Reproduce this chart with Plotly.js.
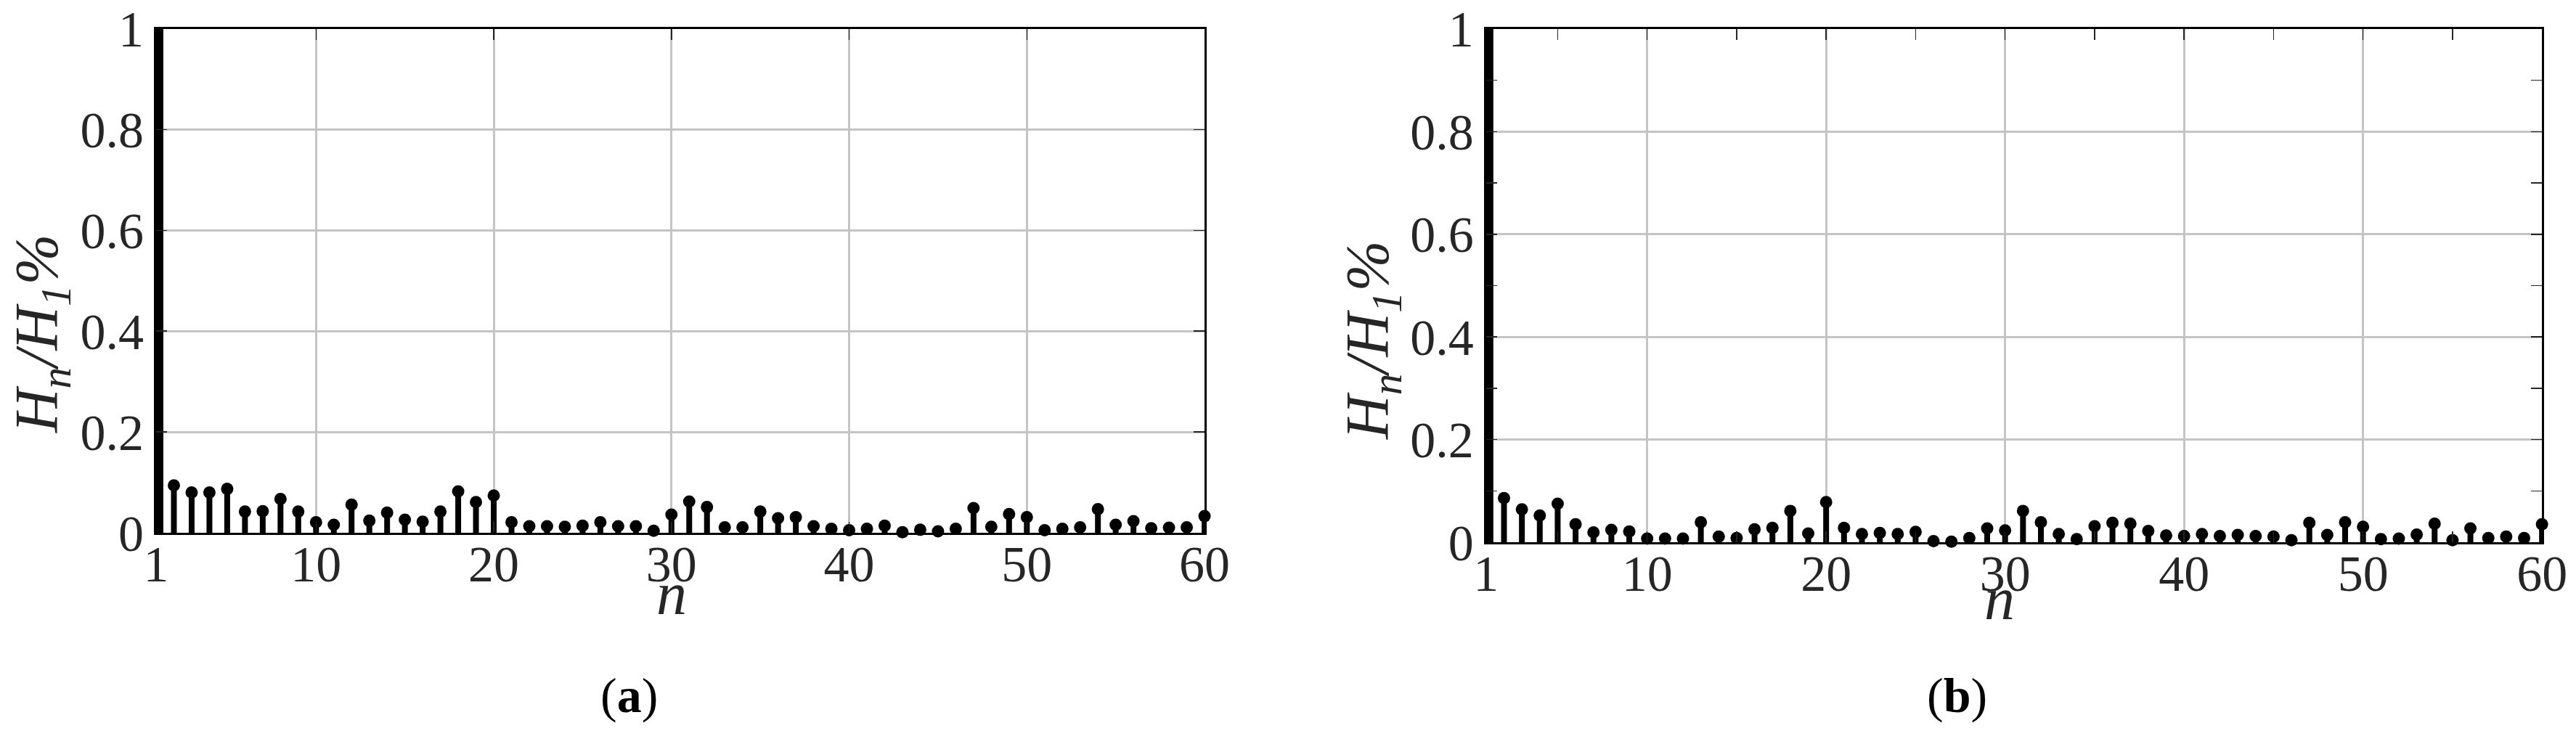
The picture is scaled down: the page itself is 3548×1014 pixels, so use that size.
<!DOCTYPE html>
<html>
<head>
<meta charset="utf-8">
<script src="https://cdn.plot.ly/plotly-3.0.1.min.js"></script>
<style>
html, body { margin: 0; padding: 0; background: #ffffff; }
#chart { width: 3548px; height: 1014px; }
</style>
</head>
<body>
<div id="chart"></div>
<script>
// ---- data ----
const harmonicOrder = [2,3,4,5,6,7,8,9,10,11,12,13,14,15,16,17,18,19,20,21,22,23,24,25,26,27,28,29,30,31,32,33,34,35,36,37,38,39,40,41,42,43,44,45,46,47,48,49,50,51,52,53,54,55,56,57,58,59,60];
const valuesA = [0.094,0.080,0.080,0.087,0.042,0.043,0.067,0.042,0.021,0.016,0.056,0.024,0.040,0.026,0.022,0.042,0.082,0.061,0.074,0.021,0.013,0.013,0.012,0.014,0.021,0.013,0.013,0.004,0.036,0.062,0.051,0.011,0.011,0.042,0.029,0.031,0.013,0.008,0.005,0.008,0.014,0.001,0.006,0.003,0.008,0.049,0.012,0.037,0.031,0.005,0.008,0.011,0.047,0.016,0.023,0.009,0.010,0.011,0.033];
const valuesB = [0.086,0.064,0.052,0.075,0.035,0.019,0.024,0.021,0.007,0.007,0.007,0.039,0.011,0.008,0.025,0.028,0.061,0.017,0.078,0.028,0.016,0.018,0.016,0.020,0.002,0.001,0.008,0.027,0.023,0.061,0.039,0.016,0.006,0.031,0.038,0.036,0.022,0.013,0.012,0.016,0.012,0.014,0.012,0.011,0.004,0.038,0.014,0.039,0.030,0.006,0.007,0.015,0.036,0.004,0.027,0.008,0.011,0.008,0.035];
const fundamentalOrder = [1, 1];
const fundamentalValue = [0, 1];
const xTickVals = [1,10,20,30,40,50,60];
const xTickText = ['1','10','20','30','40','50','60'];
const xMinorTicks = [5,15,25,35,45,55];
const yTickVals = [0,0.2,0.4,0.6,0.8,1];
const yTickText = ['0','0.2','0.4','0.6','0.8','1'];
const yMinorTicks = [0.1,0.3,0.5,0.7,0.9];
const xTitle = '<i>n</i>';
const yTitle = '<i>H<sub>n</sub>/H<sub>1</sub>%</i>';
const captions = ['(<b>a</b>)', '(<b>b</b>)'];

// ---- styling ----
const FONT = "'Liberation Serif', 'Times New Roman', serif";
const TXT = '#262626';

function stemTrace(x, y, xa, ya) {
  return {
    type: 'scatter', mode: 'markers', x: x, y: y, xaxis: xa, yaxis: ya,
    cliponaxis: false, showlegend: false, hoverinfo: 'skip',
    marker: { color: '#000000', size: 17, line: { width: 0 } },
    error_y: { type: 'data', symmetric: false, array: y.map(() => 0), arrayminus: y,
               color: '#000000', thickness: 8, width: 0 }
  };
}
function fundamentalTrace(xa, ya) {
  // the n = 1 stem sits on the left edge of the box; only its inner half shows
  return {
    type: 'scatter', mode: 'lines', x: fundamentalOrder, y: fundamentalValue, xaxis: xa, yaxis: ya,
    showlegend: false, hoverinfo: 'skip', line: { color: '#000000', width: 20 }
  };
}

const data = [
  fundamentalTrace('x', 'y'),
  stemTrace(harmonicOrder, valuesA, 'x', 'y'),
  fundamentalTrace('x2', 'y2'),
  stemTrace(harmonicOrder, valuesB, 'x2', 'y2')
];

function xAxis(domain, anchor, minor) {
  const ax = {
    domain: domain, anchor: anchor, range: [1, 60], fixedrange: true,
    tickmode: 'array', tickvals: xTickVals, ticktext: xTickText,
    ticks: 'inside', ticklen: 15, tickwidth: 1.5, tickcolor: TXT,
    showline: true, linewidth: 3, linecolor: '#000000', mirror: 'allticks',
    showgrid: true, gridcolor: '#c4c4c4', gridwidth: 3, zeroline: false,
    tickfont: { family: FONT, size: 70, color: TXT },
    ticklabelstandoff: -20
  };
  if (minor) ax.minor = { tickmode: 'array', tickvals: xMinorTicks, ticks: 'inside', ticklen: 15, tickwidth: 1.5, tickcolor: TXT, showgrid: false };
  return ax;
}
function yAxis(domain, anchor, minor) {
  const ax = {
    domain: domain, anchor: anchor, range: [0, 1], fixedrange: true,
    tickmode: 'array', tickvals: yTickVals, ticktext: yTickText,
    ticks: 'inside', ticklen: 15, tickwidth: 1.5, tickcolor: TXT,
    showline: true, linewidth: 3, linecolor: '#000000', mirror: 'allticks',
    showgrid: true, gridcolor: '#c4c4c4', gridwidth: 3, zeroline: false,
    tickfont: { family: FONT, size: 70, color: TXT },
    ticklabelstandoff: 0
  };
  if (minor) ax.minor = { tickmode: 'array', tickvals: yMinorTicks, ticks: 'inside', ticklen: 15, tickwidth: 1.5, tickcolor: TXT, showgrid: false };
  return ax;
}

function titleAnn(text, x, y, angle, size) {
  return { text: text, xref: 'paper', yref: 'paper', x: x, y: y, xanchor: 'center', yanchor: 'middle',
           textangle: angle, showarrow: false, font: { family: FONT, size: size, color: TXT } };
}

const layout = {
  width: 3548, height: 1014,
  margin: { l: 0, r: 0, t: 0, b: 0 },
  paper_bgcolor: '#ffffff', plot_bgcolor: '#ffffff',
  showlegend: false,
  xaxis: xAxis([0.0606, 0.4676], 'y', false),
  yaxis: yAxis([0.2761, 0.9610], 'x', false),
  xaxis2: xAxis([0.5769, 0.9868], 'y2', true),
  yaxis2: yAxis([0.2633, 0.9606], 'x2', true),
  annotations: [
    titleAnn(xTitle, 0.2607, 0.1935, 0, 84),
    titleAnn(xTitle, 0.7762, 0.1870, 0, 84),
    titleAnn(yTitle, 0.0161, 0.5464, -90, 84),
    titleAnn(yTitle, 0.5327, 0.5375, -90, 84),
    { text: captions[0], xref: 'paper', yref: 'paper', x: 0.2441, y: 0.055, xanchor: 'center', yanchor: 'middle', showarrow: false, font: { family: FONT, size: 68, color: '#000000' } },
    { text: captions[1], xref: 'paper', yref: 'paper', x: 0.7596, y: 0.055, xanchor: 'center', yanchor: 'middle', showarrow: false, font: { family: FONT, size: 68, color: '#000000' } }
  ]
};

Plotly.newPlot('chart', data, layout, { staticPlot: true, displayModeBar: false });
</script>
</body>
</html>
